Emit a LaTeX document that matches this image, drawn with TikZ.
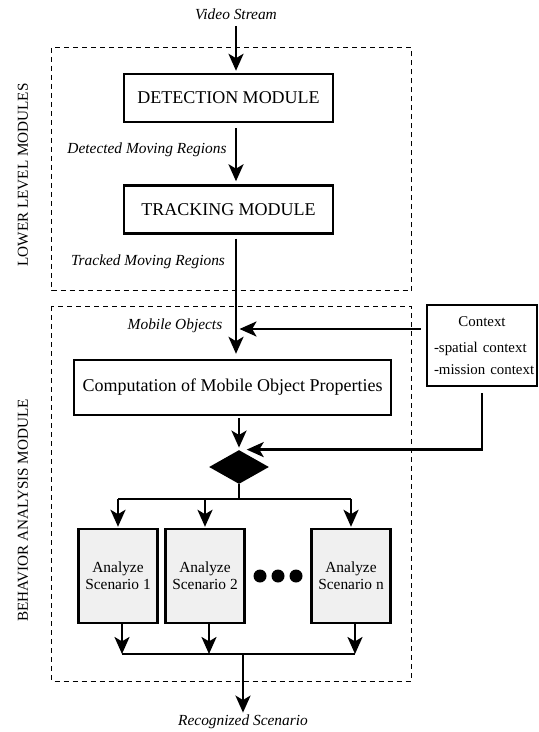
\documentclass[tikz,border=0pt]{standalone}
\usepackage{fontspec}
\setmainfont{Liberation Serif}
\usetikzlibrary{arrows.meta, shapes.geometric}

\begin{document}
\begin{tikzpicture}[x=0.5pt, y=-0.5pt,
    lbl/.style={inner sep=1pt, font=\fontsize{7.7}{9}\selectfont\itshape},
    modbox/.style={draw, line width=1.2pt, minimum width=104.5pt, minimum height=24pt, font=\fontsize{9}{11}\selectfont},
    scenbox/.style={draw, line width=1.2pt, fill=gray!12, minimum width=38pt, minimum height=47pt, align=center, font=\fontsize{7.7}{8.5}\selectfont},
    ctxbox/.style={draw, line width=1.2pt, text width=48pt, inner xsep=3.5pt, minimum height=40.5pt, font=\fontsize{7.45}{11}\selectfont},
    arr/.style={line width=1.3pt, -{Stealth[length=8.5pt, width=7.5pt, inset=2.2pt]}},
    link/.style={line width=1.3pt},
    frame/.style={line width=0.5pt, dash pattern=on 2.5pt off 2pt},
    side/.style={rotate=90, font=\fontsize{7.6}{9}\selectfont},
    dotnode/.style={circle, fill, inner sep=0pt, minimum size=6.5pt}]
  \useasboundingbox (0, 0) rectangle (538, 732);
  \draw[frame] (51.5, 48) rectangle (411, 291);
  \draw[frame] (51.5, 306) rectangle (411, 681);
  \node[side] (lowlbl) at (23, 175) {LOWER LEVEL MODULES};
  \node[side] (behlbl) at (23, 510.5) {BEHAVIOR ANALYSIS MODULE};

  \node[lbl] (video) at (236, 14) {Video Stream};
  \node[modbox] (det) at (228.5, 98) {DETECTION MODULE};
  \node[lbl] (detlbl) at (147, 150) {Detected Moving Regions};
  \node[modbox] (trk) at (228.5, 209.5) {TRACKING MODULE};
  \node[lbl] (trklbl) at (148, 262) {Tracked Moving Regions};
  \node[lbl] (moblbl) at (175, 326) {Mobile Objects};
  \coordinate (mobin) at (236, 329);
  \node[modbox, minimum width=158.5pt, minimum height=27.5pt] (comp) at (232.5, 387.5) {Computation of Mobile Object Properties};
  \node[ctxbox] (ctx) at (482, 345.5) {\centering Context\par\vspace{2pt}\raggedright\mbox{-spatial context}\\\mbox{-mission context}};
  \node[diamond, fill, inner sep=0pt, minimum width=30pt, minimum height=17pt] (dia) at (239, 467) {};
  \coordinate (fork) at (239, 499);
  \node[scenbox] (s1) at (118, 576) {Analyze\\Scenario 1};
  \node[scenbox] (s2) at (205, 576) {Analyze\\Scenario 2};
  \node[scenbox] (sn) at (351, 576) {Analyze\\Scenario n};
  \foreach \x [count=\i] in {260, 278, 296}
    \node[dotnode] (dot\i) at (\x, 576) {};
  \coordinate (join) at (243, 654);
  \node[lbl] (recog) at (243, 722) {Recognized Scenario};

  \draw[arr, shorten <=2pt, shorten >=1pt] (video.south) -- (video.south |- det.north);
  \draw[arr, shorten <=2.5pt, shorten >=1.5pt] (det.south -| video) -- (trk.north -| video);
  \draw[arr, shorten <=2pt, shorten >=2.5pt] (trk.south -| video) -- (comp.north -| video);
  \draw[arr, shorten <=2.5pt, shorten >=1.75pt] (ctx.west |- mobin) -- (mobin);
  \draw[arr, shorten <=1pt, shorten >=1pt] (comp.south -| dia) -- (dia.north);
  \draw[arr, shorten <=3pt, shorten >=3.85pt] (ctx.south) |- (dia.north);
  \draw[link] (dia.south) -- (fork);
  \draw[link] (s1.north |- fork) -- (sn.north |- fork);
  \foreach \b in {s1, s2, sn}
    \draw[arr, shorten >=0.5pt] (\b.north |- fork) -- (\b.north);
  \foreach \b in {s1, s2, sn}
    \draw[arr] ([xshift=2pt]\b.south) -- ([xshift=2pt]\b.south |- join);
  \draw[link] ([xshift=2pt]s1.south |- join) -- ([xshift=2pt]sn.south |- join);
  \draw[arr] (join) -- (recog.north);
\end{tikzpicture}
\end{document}
